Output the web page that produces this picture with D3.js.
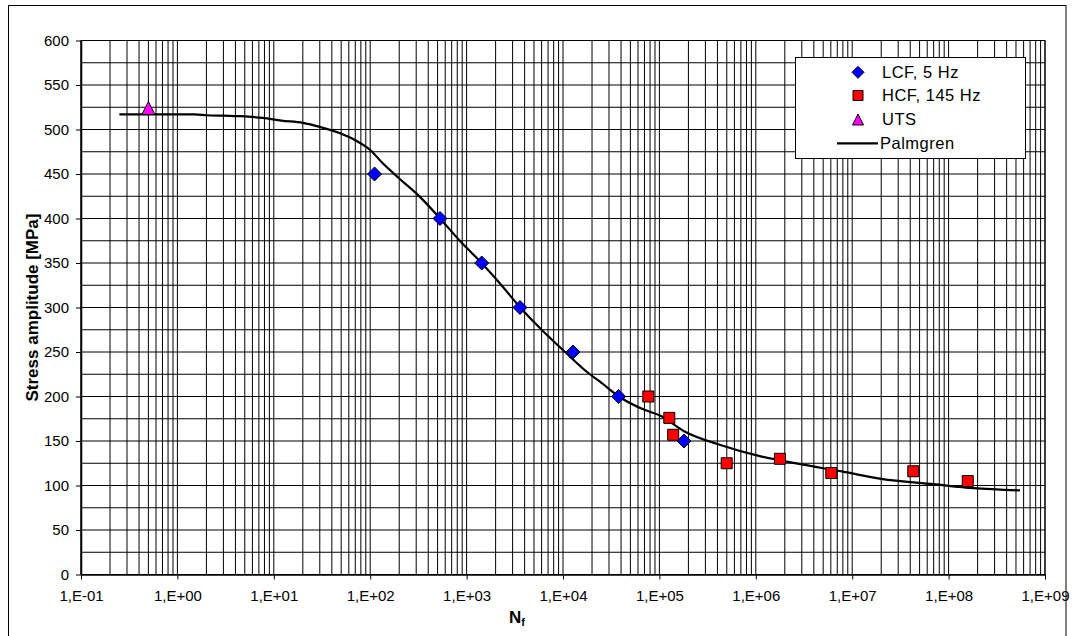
<!DOCTYPE html>
<html>
<head>
<meta charset="utf-8">
<script src="https://cdn.jsdelivr.net/npm/d3@7"></script>
<style>
  html, body { margin: 0; padding: 0; background: #fff; }
  svg { display: block; }
  text { font-family: Arial, "Liberation Sans", sans-serif; fill: #000; }
</style>
</head>
<body>
<svg id="chart" width="1072" height="636"></svg>
<script>
// ---- data ----
const lcfN = [111, 530, 1435, 3580, 12700, 37800, 180000];
const lcfS = [450, 400, 350, 300, 250, 200, 150];

const hcfN = [76700, 126700, 139000, 499000, 1780000, 6070000, 43000000, 158000000];
const hcfS = [200, 176, 157, 125, 130, 114, 116, 105];

const utsN = [0.5];
const utsS = [523];

const palmN = [0.25, 0.5, 1, 1.5, 2, 3, 4.5, 7.7, 12, 20, 30, 48, 70, 100, 135, 200, 330, 530, 850,
               1430, 2300, 3600, 6000, 10500, 19000, 24000, 38000, 70000, 100000, 180000, 430000,
               1100000, 2900000, 8000000, 20000000, 70000000, 180000000, 550000000];
const palmS = [517, 517, 517, 517, 516, 515.5, 515, 513, 510, 507.5, 503, 496, 488, 477, 462, 445, 424, 400, 375,
               350, 325, 300, 275, 250, 225, 217, 200, 185, 179, 161, 145.5,
               133, 124, 115.5, 107.5, 101.5, 97, 94.5];

const xTicks = [1e-1, 1e0, 1e1, 1e2, 1e3, 1e4, 1e5, 1e6, 1e7, 1e8, 1e9];
const xTickLabels = ["1,E-01", "1,E+00", "1,E+01", "1,E+02", "1,E+03", "1,E+04", "1,E+05", "1,E+06", "1,E+07", "1,E+08", "1,E+09"];
const yTicks = [0, 50, 100, 150, 200, 250, 300, 350, 400, 450, 500, 550, 600];
const yGrid = d3.range(0, 601, 25);

const legendLabels = ["LCF, 5 Hz", "HCF, 145 Hz", "UTS", "Palmgren"];

// ---- layout ----
const svg = d3.select("#chart");
const pL = 81, pR = 1045, pT = 40.5, pB = 574.5;

const x = d3.scaleLog().domain([1e-1, 1e9]).range([pL, pR]);
const y = d3.scaleLinear().domain([0, 600]).range([pB, pT]);

// outer chart border
svg.append("rect").attr("x", 8.5).attr("y", 5.5).attr("width", 1057.5).attr("height", 640)
  .attr("fill", "#fff").attr("stroke", "#000").attr("stroke-width", 1);

// plot background
svg.append("rect").attr("x", pL).attr("y", pT).attr("width", pR - pL).attr("height", pB - pT)
  .attr("fill", "#fff");

// vertical grid (log minor)
const xGrid = [];
for (let d = -1; d < 9; d++) for (let m = 1; m <= 9; m++) xGrid.push(m * Math.pow(10, d));
xGrid.push(1e9);
svg.append("g").selectAll("line").data(xGrid).join("line")
  .attr("x1", d => x(d)).attr("x2", d => x(d))
  .attr("y1", pT).attr("y2", pB)
  .attr("stroke", "#000").attr("stroke-width", 1);

// horizontal grid
svg.append("g").selectAll("line").data(yGrid).join("line")
  .attr("x1", pL).attr("x2", pR)
  .attr("y1", d => y(d)).attr("y2", d => y(d))
  .attr("stroke", "#000").attr("stroke-width", 1);

// plot border
svg.append("rect").attr("x", pL).attr("y", pT).attr("width", pR - pL).attr("height", pB - pT)
  .attr("fill", "none").attr("stroke", "#000").attr("stroke-width", 1);

// axes
const yAxis = svg.append("g").attr("transform", `translate(${pL},0)`)
  .call(d3.axisLeft(y).tickValues(yTicks).tickSize(5).tickSizeOuter(0).tickPadding(7).tickFormat(d3.format("d")));
const xAxis = svg.append("g").attr("transform", `translate(0,${pB})`)
  .call(d3.axisBottom(x).tickValues(xTicks).tickSize(5).tickSizeOuter(0).tickPadding(11)
    .tickFormat((d, i) => xTickLabels[i]));
[yAxis, xAxis].forEach(a => {
  a.selectAll("path.domain").attr("stroke", "#000").attr("stroke-width", 1.5);
  a.selectAll(".tick line").attr("stroke", "#000");
  a.selectAll("text").style("font-family", "Arial, 'Liberation Sans', sans-serif").style("font-size", "15px").attr("fill", "#000");
});

// axis titles
svg.append("text").attr("transform", `translate(34,${(pT + pB) / 2}) rotate(-90)`)
  .attr("text-anchor", "middle").attr("dominant-baseline", "middle")
  .style("font-size", "17px").style("font-weight", "bold").text("Stress amplitude [MPa]");

const xt = svg.append("text").attr("x", 517).attr("y", 623).attr("text-anchor", "middle")
  .style("font-size", "17px").style("font-weight", "bold");
xt.append("tspan").text("N");
xt.append("tspan").attr("dy", 3).style("font-size", "11px").text("f");

// Palmgren curve
const line = d3.line().x(d => x(d[0])).y(d => y(d[1])).curve(d3.curveMonotoneX);
svg.append("path").datum(palmN.map((n, i) => [n, palmS[i]]))
  .attr("d", line).attr("fill", "none").attr("stroke", "#000").attr("stroke-width", 2.2);

// markers
const diamond = (cx, cy, r) => `M${cx},${cy - r}L${cx + r},${cy}L${cx},${cy + r}L${cx - r},${cy}Z`;
const square = (cx, cy, h) => `M${cx - h},${cy - h}H${cx + h}V${cy + h}H${cx - h}Z`;
const tri = (cx, cy, h) => `M${cx},${cy - h - 1}L${cx + h},${cy + h - 1}L${cx - h},${cy + h - 1}Z`;

svg.append("g").selectAll("path").data(lcfN.map((n, i) => [n, lcfS[i]])).join("path")
  .attr("d", d => diamond(x(d[0]), y(d[1]), 7))
  .attr("fill", "#0000ff").attr("stroke", "#000").attr("stroke-width", 1);
svg.append("g").selectAll("path").data(hcfN.map((n, i) => [n, hcfS[i]])).join("path")
  .attr("d", d => square(x(d[0]), y(d[1]), 5.5))
  .attr("fill", "#ff0000").attr("stroke", "#000").attr("stroke-width", 1);
svg.append("g").selectAll("path").data(utsN.map((n, i) => [n, utsS[i]])).join("path")
  .attr("d", d => tri(x(d[0]), y(d[1]), 6.5))
  .attr("fill", "#ff00ff").attr("stroke", "#000").attr("stroke-width", 1);

// legend
const lg = svg.append("g");
lg.append("rect").attr("x", 795.5).attr("y", 57.5).attr("width", 230).attr("height", 101)
  .attr("fill", "#fff").attr("stroke", "#000").attr("stroke-width", 1);
const rows = [72.3, 95.5, 119.5, 143.3];
const mx = 858;
lg.append("path").attr("d", diamond(mx, rows[0], 6)).attr("fill", "#0000ff").attr("stroke", "#000");
lg.append("path").attr("d", square(mx, rows[1], 5)).attr("fill", "#ff0000").attr("stroke", "#000");
lg.append("path").attr("d", tri(mx, rows[2] + 1, 5.5)).attr("fill", "#ff00ff").attr("stroke", "#000");
lg.append("line").attr("x1", 837).attr("x2", 878).attr("y1", rows[3]).attr("y2", rows[3])
  .attr("stroke", "#000").attr("stroke-width", 2.2);
lg.selectAll("text.lab").data(legendLabels).join("text").attr("class", "lab")
  .attr("x", (d, i) => i === 3 ? 880 : 882).attr("y", (d, i) => rows[i]).attr("dy", "0.36em")
  .style("font-size", "16.5px").style("letter-spacing", "0.5px").text(d => d);
</script>
</body>
</html>
